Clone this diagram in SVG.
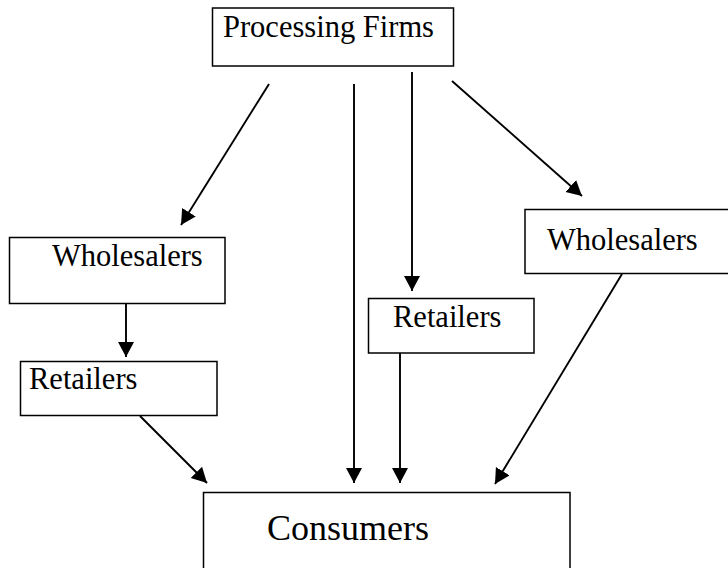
<svg xmlns="http://www.w3.org/2000/svg" width="728" height="568" viewBox="0 0 728 568">
  <style>
    .box { fill: #ffffff; stroke: #000000; stroke-width: 1.5; }
    .lbl { font-family: "Liberation Serif", "Times New Roman", serif; font-size: 30.5px; fill: #000000; }
    .big { font-size: 36px; }
    .conn { stroke: #000000; stroke-width: 1.9; fill: none; marker-end: url(#arrow); }
  </style>
  <defs>
    <marker id="arrow" markerUnits="userSpaceOnUse" markerWidth="17" markerHeight="18" refX="15" refY="8" orient="auto">
      <path d="M0,0 L15,8 L0,16 Z" fill="#000000"/>
    </marker>
  </defs>
  <rect width="728" height="568" fill="#ffffff"/>

  <g id="processing-firms">
    <rect class="box" x="212.5" y="8" width="241" height="58"/>
    <text class="lbl" x="223" y="37">Processing Firms</text>
  </g>
  <g id="wholesalers-left">
    <rect class="box" x="9.5" y="237.5" width="215.5" height="66"/>
    <text class="lbl" x="52" y="266">Wholesalers</text>
  </g>
  <g id="retailers-left">
    <rect class="box" x="20.5" y="361.5" width="196.5" height="54"/>
    <text class="lbl" x="29" y="389">Retailers</text>
  </g>
  <g id="retailers-middle">
    <rect class="box" x="368.5" y="298.5" width="165.5" height="54.5"/>
    <text class="lbl" x="393" y="327">Retailers</text>
  </g>
  <g id="wholesalers-right">
    <rect class="box" x="525" y="209.5" width="210" height="64"/>
    <text class="lbl" x="547" y="250">Wholesalers</text>
  </g>
  <g id="consumers">
    <rect class="box" x="203.5" y="492.5" width="366.5" height="90"/>
    <text class="lbl big" x="267" y="540">Consumers</text>
  </g>

  <g id="connectors">
    <line class="conn" x1="269" y1="84" x2="181" y2="225"/>
    <line class="conn" x1="354" y1="84" x2="354" y2="483"/>
    <line class="conn" x1="412" y1="72" x2="412" y2="291"/>
    <line class="conn" x1="452" y1="81" x2="582" y2="196"/>
    <line class="conn" x1="126" y1="304" x2="126" y2="357"/>
    <line class="conn" x1="140" y1="416" x2="207" y2="483"/>
    <line class="conn" x1="400" y1="353" x2="400" y2="483"/>
    <line class="conn" x1="622" y1="274" x2="495" y2="484"/>
  </g>
</svg>
